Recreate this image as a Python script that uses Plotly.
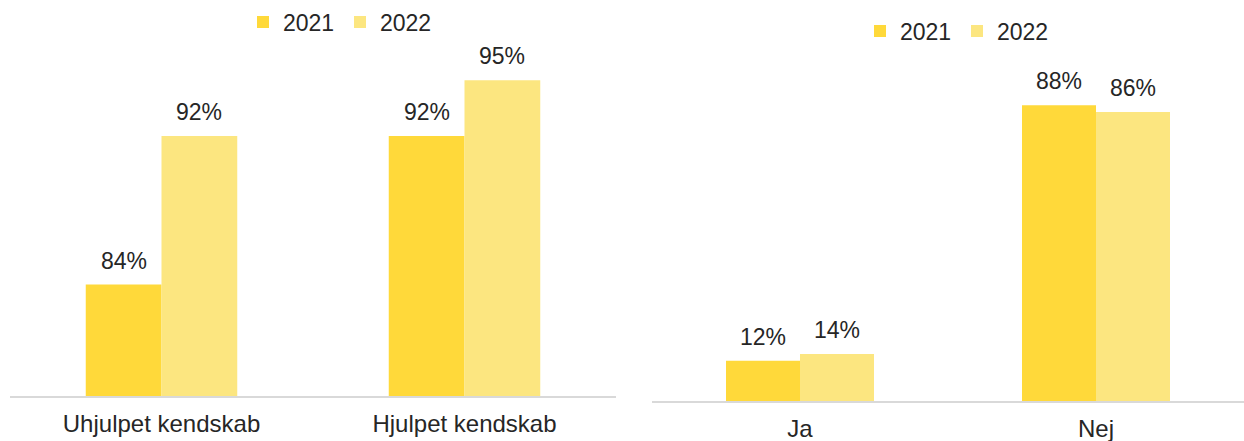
import plotly.graph_objects as go

W, H = 1244, 441

years = ["2021", "2022"]
left_categories = ["Uhjulpet kendskab", "Hjulpet kendskab"]
left_2021 = [84, 92]
left_2022 = [92, 95]
right_categories = ["Ja", "Nej"]
right_2021 = [12, 88]
right_2022 = [14, 86]

colors = {"2021": "#FFD93A", "2022": "#FCE680"}
text_color = "#262626"
font_family = "Liberation Sans, Arial, sans-serif"

# pixel layout
L_x0, L_x1, L_base, L_top = 10, 616, 396, 43
R_x0, R_x1, R_base, R_top = 652, 1244, 401, 65
bargap = 0.5

fig = go.Figure()

panels = [
    ("x", "y", "legend", left_categories, {"2021": left_2021, "2022": left_2022}),
    ("x2", "y2", "legend2", right_categories, {"2021": right_2021, "2022": right_2022}),
]

for xa, ya, lg, cats, series in panels:
    for yr in years:
        fig.add_trace(go.Bar(
            x=cats, y=series[yr], name=yr, xaxis=xa, yaxis=ya, legend=lg,
            marker=dict(color=colors[yr], line=dict(width=0)),
            hoverinfo="skip",
        ))

# value labels
annotations = []
for xa, ya, lg, cats, series in panels:
    x0, x1 = (L_x0, L_x1) if xa == "x" else (R_x0, R_x1)
    catw = (x1 - x0) / len(cats)
    barw = catw * (1 - bargap) / 2
    for i, yr in enumerate(years):
        shift = (i - 0.5) * barw
        for c, v in zip(cats, series[yr]):
            annotations.append(dict(
                x=c, y=v, xref=xa, yref=ya, text=f"{v}%", showarrow=False,
                xanchor="center", yanchor="bottom", xshift=shift, yshift=9,
                font=dict(size=23, color=text_color, family=font_family),
            ))

axis_common = dict(
    showgrid=False, zeroline=False, showline=True, linecolor="#D9D9D9", linewidth=1.5,
    ticks="", tickfont=dict(size=24, color=text_color, family=font_family),
    fixedrange=True,
)
yaxis_common = dict(showgrid=False, zeroline=False, showline=False, showticklabels=False,
                    ticks="", fixedrange=True)

legend_common = dict(
    orientation="h", yanchor="middle", xanchor="center",
    font=dict(size=23, color=text_color, family=font_family), bgcolor="rgba(0,0,0,0)",
    traceorder="normal", entrywidth=52, entrywidthmode="pixels",
)

fig.update_layout(
    width=W, height=H,
    margin=dict(l=0, r=0, t=0, b=0, autoexpand=False),
    paper_bgcolor="white", plot_bgcolor="white",
    barmode="group", bargap=bargap, bargroupgap=0,
    font=dict(family=font_family, color=text_color),
    xaxis=dict(domain=[L_x0 / W, L_x1 / W], anchor="y", ticklabelstandoff=5, **axis_common),
    yaxis=dict(domain=[(H - L_base) / H, (H - L_top) / H], range=[78, 97], anchor="x", **yaxis_common),
    xaxis2=dict(domain=[R_x0 / W, R_x1 / W], anchor="y2", ticklabelstandoff=5, **axis_common),
    yaxis2=dict(domain=[(H - R_base) / H, (H - R_top) / H], range=[0, 100], anchor="x2", **yaxis_common),
    legend=dict(x=340 / W, y=(H - 22) / H, **legend_common),
    legend2=dict(x=957 / W, y=(H - 31) / H, **legend_common),
    annotations=annotations,
    showlegend=True,
)

fig.write_html(
    "out.html",
    config={"displayModeBar": False},
    post_script="document.body.style.margin='0';document.body.style.overflow='hidden';",
)
